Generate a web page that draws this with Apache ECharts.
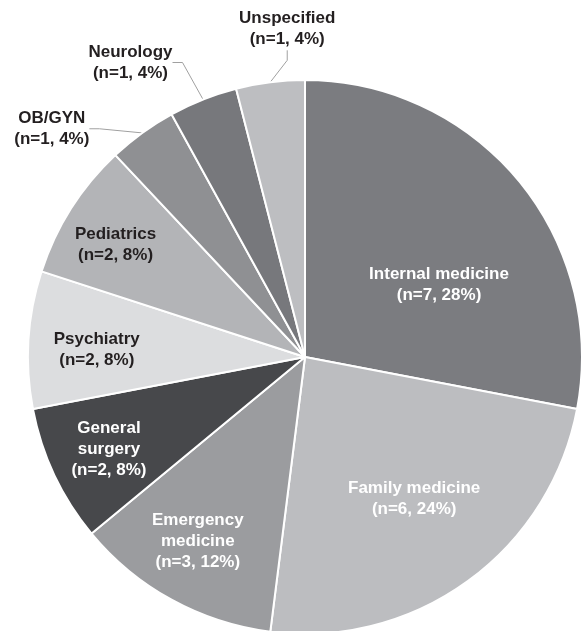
<!DOCTYPE html>
<html>
<head>
<meta charset="utf-8">
<style>
  html, body { margin: 0; padding: 0; background: #fff; }
  #chart { width: 582px; height: 631px; }
</style>
<script src="https://cdn.jsdelivr.net/npm/echarts@6/dist/echarts.min.js"></script>
</head>
<body>
<div id="chart"></div>
<script>
// specialties, clockwise from 12 o'clock
const categories = ['Internal medicine', 'Family medicine', 'Emergency medicine', 'General surgery',
  'Psychiatry', 'Pediatrics', 'OB/GYN', 'Neurology', 'Unspecified'];
const labelNames = ['Internal medicine', 'Family medicine', 'Emergency\nmedicine', 'General\nsurgery',
  'Psychiatry', 'Pediatrics', 'OB/GYN', 'Neurology', 'Unspecified'];
const counts = [7, 6, 3, 2, 2, 2, 1, 1, 1];
const percents = [28, 24, 12, 8, 8, 8, 4, 4, 4];

const sliceColors = ['#7b7c80', '#bcbdc0', '#9b9c9f', '#47484b', '#dcdddf', '#b3b4b7', '#8f9093', '#77787c', '#bdbec1'];
const textColors = ['#fff', '#fff', '#fff', '#fff', '#231f20', '#231f20', '#231f20', '#231f20', '#231f20'];
const outside = [false, false, false, false, false, false, true, true, true];
// nudges of each label from where ECharts first puts it
const labelShift = [[25, 18], [26, 27], [-39, 60], [-68, 32], [-67, 2], [-70, -36], [-29, 8], [-10, -23], [82, -38]];

const chart = echarts.init(document.getElementById('chart'));

const data = categories.map((name, i) => ({
  name,
  value: counts[i],
  itemStyle: { color: sliceColors[i] },
  label: {
    position: outside[i] ? 'outside' : 'inside',
    color: textColors[i],
    formatter: labelNames[i] + '\n(n=' + counts[i] + ', ' + percents[i] + '%)'
  },
  labelLine: { show: outside[i] }
}));

chart.setOption({
  animation: false,
  series: [{
    type: 'pie',
    center: [305, 357],
    radius: 277,
    startAngle: 90,
    clockwise: true,
    avoidLabelOverlap: false,
    itemStyle: { borderColor: '#fff', borderWidth: 2 },
    label: {
      fontFamily: 'Arial, "Liberation Sans", sans-serif',
      fontSize: 17,
      fontWeight: 'bold',
      lineHeight: 21,
      align: 'center'
    },
    labelLine: {
      length: 15,
      length2: 10,
      lineStyle: { color: '#a0a0a0', width: 1 }
    },
    labelLayout: (params) => {
      const r = params.labelRect;
      const s = labelShift[params.dataIndex];
      return {
        x: r.x + r.width / 2 + s[0],
        y: r.y + r.height / 2 + s[1],
        align: 'center',
        verticalAlign: 'middle'
      };
    },
    data
  }]
});
</script>
</body>
</html>
